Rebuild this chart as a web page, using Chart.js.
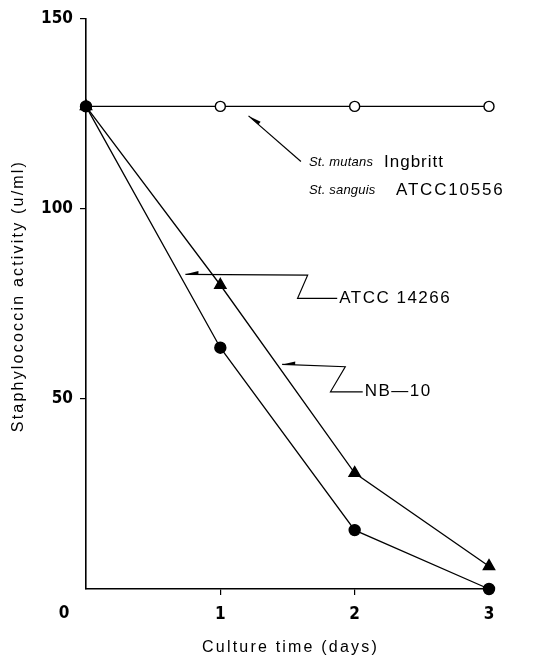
<!DOCTYPE html>
<html>
<head>
<meta charset="utf-8">
<script src="https://cdn.jsdelivr.net/npm/chart.js@4"></script>
<style>
  body { margin: 0; background: #fff; }
  #wrap { width: 534px; height: 659px; position: relative; }
</style>
</head>
<body>
<div id="wrap"><canvas id="chart"></canvas></div>
<script>
// Datos
const dias = [0, 1, 2, 3];
const mutansSanguis = [127, 127, 127, 127];
const atcc14266 = [127, 80, 30.5, 6];
const nb10 = [127, 63.5, 15.5, 0];
const yTicks = [0, 50, 100, 150];
const xTitulo = 'Culture time (days)';
const yTitulo = 'Staphylococcin activity (u/ml)';

const pares = arr => dias.map((d, i) => ({ x: d, y: arr[i] }));

// --- Plugin: titulos, "0" y llamadas ---
const extras = {
  id: 'extras',
  afterDraw(chart) {
    const { ctx, chartArea: ca, scales: { x, y } } = chart;
    const X = v => x.getPixelForValue(v), Y = v => y.getPixelForValue(v);
    ctx.save();
    ctx.fillStyle = '#000'; ctx.strokeStyle = '#000';

    // "0" en la esquina
    ctx.font = 'bold 17px "Liberation Sans Narrow", "DejaVu Sans Condensed", sans-serif';
    ctx.textAlign = 'center'; ctx.textBaseline = 'middle';
    ctx.fillText('0', X(0) - 22, ca.bottom + 25);

    // titulos de ejes
    ctx.font = '16px "Liberation Sans", sans-serif';
    ctx.letterSpacing = '2.2px';
    ctx.fillText(xTitulo, (ca.left + ca.right) / 2 + 3, ca.bottom + 59);
    ctx.save();
    ctx.translate(19, (ca.top + ca.bottom) / 2 - 8);
    ctx.rotate(-Math.PI / 2);
    ctx.fillText(yTitulo, 0, 0);
    ctx.restore();

    // llamadas
    ctx.lineWidth = 1.2;
    const flecha = (x0, y0, x1, y1) => {
      const a = Math.atan2(y1 - y0, x1 - x0);
      ctx.beginPath();
      ctx.moveTo(x0, y0);
      ctx.lineTo(x0 + 13 * Math.cos(a), y0 + 13 * Math.sin(a));
      ctx.lineTo(x0 + 13 * Math.cos(a) + 3.5 * Math.sin(a), y0 + 13 * Math.sin(a) - 3.5 * Math.cos(a));
      ctx.closePath(); ctx.fill();
    };
    const polilinea = pts => {
      ctx.beginPath();
      pts.forEach((p, i) => i ? ctx.lineTo(X(p[0]), Y(p[1])) : ctx.moveTo(X(p[0]), Y(p[1])));
      ctx.stroke();
      flecha(X(pts[0][0]), Y(pts[0][1]), X(pts[1][0]), Y(pts[1][1]));
    };
    polilinea([[0.74, 82.8], [1.65, 82.6], [1.575, 76.5], [1.87, 76.5]]);
    polilinea([[1.46, 59.1], [1.93, 58.5], [1.82, 51.9], [2.06, 51.9]]);
    polilinea([[1.21, 124.5], [1.6, 112.5]]);

    ctx.textAlign = 'left';
    ctx.font = '17px "Liberation Sans", sans-serif';
    ctx.letterSpacing = '1.5px';
    ctx.fillText('ATCC 14266', X(1.885), Y(76.5));
    ctx.fillText('NB\u201410', X(2.075), Y(51.9));

    ctx.letterSpacing = '0.2px';
    ctx.font = 'italic 13px "Liberation Sans", sans-serif';
    ctx.fillText('St. mutans', 309, Y(112.3));
    ctx.fillText('St. sanguis', 309, Y(104.9));
    ctx.font = '17px "Liberation Sans", sans-serif';
    ctx.letterSpacing = '1px';
    ctx.fillText('Ingbritt', 384, Y(112.3));
    ctx.letterSpacing = '1.8px';
    ctx.fillText('ATCC10556', 396, Y(104.9));
    ctx.restore();
  }
};

const comun = { borderColor: '#000', borderWidth: 1.3, pointBorderColor: '#000', pointBorderWidth: 1.4, tension: 0, clip: false };

const ctx = document.getElementById('chart').getContext('2d');
const myChart = new Chart(ctx, {
  type: 'line',
  data: {
    datasets: [
      { ...comun, label: 'NB-10', data: pares(nb10), pointStyle: 'circle', pointRadius: 5.5, pointBackgroundColor: '#000' },
      { ...comun, label: 'ATCC 14266', data: pares(atcc14266), pointStyle: 'triangle', pointRadius: 6.5, pointBackgroundColor: '#000' },
      { ...comun, label: 'St. mutans Ingbritt / St. sanguis ATCC10556', data: pares(mutansSanguis), pointStyle: 'circle', pointRadius: 5, pointBackgroundColor: '#fff' }
    ]
  },
  options: {
    responsive: true, maintainAspectRatio: false, animation: false,
    layout: { padding: { top: 19, right: 45, left: 0, bottom: 0 } },
    plugins: { legend: { display: false }, tooltip: { enabled: false } },
    scales: {
      x: {
        type: 'linear', min: 0, max: 3,
        afterFit: s => { s.height = 70; },
        afterBuildTicks: s => { s.ticks = dias.map(v => ({ value: v })); },
        ticks: { color: '#000', padding: 9, maxRotation: 0,
          font: { family: '"Liberation Sans Narrow", "DejaVu Sans Condensed", sans-serif', size: 17, weight: 'bold' },
          callback: v => v === 0 ? '' : v },
        grid: { drawOnChartArea: false, drawTicks: true, tickLength: 6, lineWidth: 1.2,
          color: c => c.tick && c.tick.value === 0 ? 'rgba(0,0,0,0)' : '#000' },
        border: { display: true, color: '#000', width: 1.6 }
      },
      y: {
        min: 0, max: 150,
        afterFit: s => { s.width = 86; },
        afterBuildTicks: s => { s.ticks = yTicks.map(v => ({ value: v })); },
        ticks: { color: '#000', padding: 7,
          font: { family: '"Liberation Sans Narrow", "DejaVu Sans Condensed", sans-serif', size: 17, weight: 'bold' },
          callback: v => v === 0 ? '' : v },
        grid: { drawOnChartArea: false, drawTicks: true, tickLength: 6, lineWidth: 1.2,
          color: c => c.tick && c.tick.value === 0 ? 'rgba(0,0,0,0)' : '#000' },
        border: { display: true, color: '#000', width: 1.6 }
      }
    }
  },
  plugins: [extras]
});
</script>
</body>
</html>
